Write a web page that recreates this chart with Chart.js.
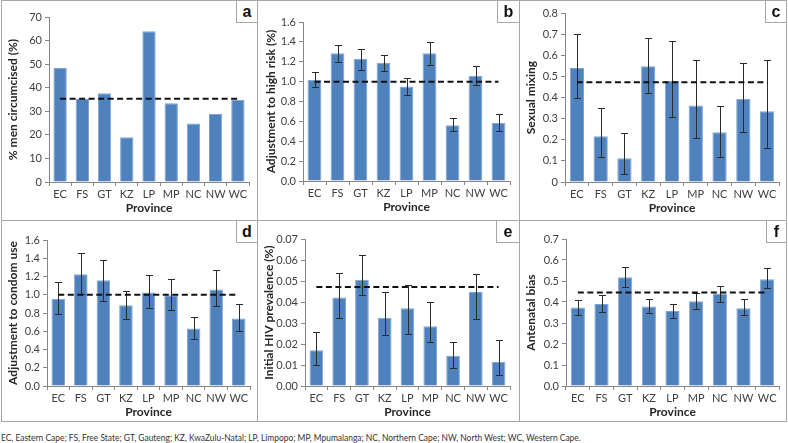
<!DOCTYPE html>
<html>
<head>
<meta charset="utf-8">
<script src="https://cdn.jsdelivr.net/npm/chart.js@4.4.1/dist/chart.umd.min.js"></script>
<style>
body { margin: 0; width: 788px; height: 443px; background: #fff; position: relative; overflow: hidden; font-family: Lato, sans-serif; }
.line { position: absolute; background: #a6a6a6; }
canvas { position: absolute; }
.tag { position: absolute; background: #fff; border: 1px solid #a6a6a6; box-sizing: border-box; font: bold 16px "Liberation Sans", Arial, sans-serif; color: #111; display: flex; align-items: center; justify-content: center; }
#note { position: absolute; left: 1px; top: 431px; font-size: 9.8px; color: #333; white-space: nowrap; transform: scaleX(0.86); transform-origin: left top; }
</style>
</head>
<body>
<!-- panel frame -->
<div class="line" style="left:1px;top:0;width:786px;height:1px"></div>
<div class="line" style="left:1px;top:220px;width:786px;height:1px"></div>
<div class="line" style="left:1px;top:421px;width:786px;height:1px"></div>
<div class="line" style="left:1px;top:0;width:1px;height:422px"></div>
<div class="line" style="left:257px;top:0;width:1px;height:422px"></div>
<div class="line" style="left:519px;top:0;width:1px;height:422px"></div>
<div class="line" style="left:786px;top:0;width:1px;height:422px"></div>

<canvas id="chartA"></canvas>
<canvas id="chartB"></canvas>
<canvas id="chartC"></canvas>
<canvas id="chartD"></canvas>
<canvas id="chartE"></canvas>
<canvas id="chartF"></canvas>

<div class="tag" style="left:236px;top:0;width:22px;height:23px">a</div>
<div class="tag" style="left:497px;top:0;width:23px;height:23px">b</div>
<div class="tag" style="left:765px;top:0;width:22px;height:23px">c</div>
<div class="tag" style="left:236px;top:220px;width:22px;height:23px">d</div>
<div class="tag" style="left:496px;top:220px;width:24px;height:23px">e</div>
<div class="tag" style="left:766px;top:220px;width:21px;height:23px">f</div>

<div id="note">EC, Eastern Cape; FS, Free State; GT, Gauteng; KZ, KwaZulu-Natal; LP, Limpopo; MP, Mpumalanga; NC, Northern Cape; NW, North West; WC, Western Cape.</div>

<script>
const provinces = ['EC', 'FS', 'GT', 'KZ', 'LP', 'MP', 'NC', 'NW', 'WC'];

// a - % men circumcised
const circumcised = [48.4, 35.2, 37.6, 19.0, 64.0, 33.4, 24.8, 28.8, 34.9];
const circumcisedRef = 35.3;
const ticksA = ['0', '10', '20', '30', '40', '50', '60', '70'];

// b - adjustment to high risk
const highRisk = [1.02, 1.285, 1.23, 1.19, 0.95, 1.285, 0.56, 1.06, 0.585];
const highRiskLow = [0.95, 1.195, 1.12, 1.11, 0.865, 1.17, 0.50, 0.97, 0.50];
const highRiskHigh = [1.095, 1.37, 1.33, 1.27, 1.04, 1.40, 0.63, 1.16, 0.67];
const highRiskRef = 1.0;
const ticksB = ['0.0', '0.2', '0.4', '0.6', '0.8', '1.0', '1.2', '1.4', '1.6'];

// c - sexual mixing
const mixing = [0.54, 0.217, 0.113, 0.548, 0.478, 0.362, 0.236, 0.394, 0.335];
const mixingLow = [0.397, 0.12, 0.036, 0.42, 0.309, 0.206, 0.12, 0.238, 0.159];
const mixingHigh = [0.70, 0.35, 0.233, 0.68, 0.668, 0.576, 0.362, 0.563, 0.578];
const mixingRef = 0.472;
const ticksC = ['0', '0.1', '0.2', '0.3', '0.4', '0.5', '0.6', '0.7', '0.8'];

// d - adjustment to condom use
const condom = [0.955, 1.224, 1.159, 0.886, 1.024, 0.995, 0.63, 1.057, 0.74];
const condomLow = [0.794, 1.01, 0.933, 0.729, 0.856, 0.83, 0.52, 0.875, 0.605];
const condomHigh = [1.14, 1.461, 1.385, 1.042, 1.221, 1.17, 0.758, 1.276, 0.897];
const condomRef = 1.0;
const ticksD = ['0.0', '0.2', '0.4', '0.6', '0.8', '1.0', '1.2', '1.4', '1.6'];

// e - initial HIV prevalence
const prevalence = [0.017, 0.0422, 0.0506, 0.0325, 0.037, 0.0284, 0.0144, 0.0448, 0.0116];
const prevalenceLow = [0.0102, 0.0322, 0.0433, 0.0243, 0.0246, 0.0208, 0.0084, 0.0319, 0.0052];
const prevalenceHigh = [0.0259, 0.0538, 0.0622, 0.0448, 0.0481, 0.0402, 0.0211, 0.0532, 0.0221];
const prevalenceRef = 0.0471;
const ticksE = ['0.00', '0.01', '0.02', '0.03', '0.04', '0.05', '0.06', '0.07'];

// f - antenatal bias
const antenatal = [0.374, 0.39, 0.518, 0.378, 0.357, 0.403, 0.44, 0.37, 0.508];
const antenatalLow = [0.34, 0.352, 0.472, 0.348, 0.325, 0.368, 0.40, 0.34, 0.465];
const antenatalHigh = [0.41, 0.433, 0.566, 0.415, 0.392, 0.445, 0.478, 0.413, 0.56];
const antenatalRef = 0.445;
const ticksF = ['0.0', '0.1', '0.2', '0.3', '0.4', '0.5', '0.6', '0.7'];

const BAR_BLUE = '#4f81bd';
const AXIS_GREY = '#868686';

// whiskers drawn right after the bars, before the dashed reference line
const errorBars = {
  id: 'errorBars',
  afterDatasetDraw(chart, args) {
    const ds = chart.data.datasets[args.index];
    if (!ds.errLow) return;
    const y = chart.scales.y;
    const ctx = chart.ctx;
    ctx.save();
    ctx.strokeStyle = '#2b2b2b';
    ctx.lineWidth = 1;
    args.meta.data.forEach((bar, i) => {
      const x = Math.round(bar.x) + 0.5;
      const top = Math.round(y.getPixelForValue(ds.errHigh[i])) + 0.5;
      const bot = Math.round(y.getPixelForValue(ds.errLow[i])) + 0.5;
      ctx.beginPath();
      ctx.moveTo(x, top); ctx.lineTo(x, bot);
      ctx.moveTo(x - 3.5, top); ctx.lineTo(x + 3.5, top);
      ctx.moveTo(x - 3.5, bot); ctx.lineTo(x + 3.5, bot);
      ctx.stroke();
    });
    ctx.restore();
  }
};

function makePanel(id, box, area, values, low, high, ref, tickLabels, yTitle, titlePad) {
  const canvas = document.getElementById(id);
  canvas.width = box.w;
  canvas.height = box.h;
  canvas.style.left = box.x + 'px';
  canvas.style.top = box.y + 'px';

  const xAxisHeight = 35;
  const barSet = {
    type: 'bar',
    data: values,
    backgroundColor: BAR_BLUE,
    borderColor: '#7ea3d2',
    borderWidth: 1,
    barPercentage: 0.6,
    categoryPercentage: 1.0,
    order: 1
  };
  if (low) { barSet.errLow = low; barSet.errHigh = high; }

  new Chart(canvas, {
    data: {
      labels: provinces,
      datasets: [
        barSet,
        {
          type: 'line',
          data: provinces.map(() => ref),
          borderColor: '#111',
          borderWidth: 2,
          borderDash: [6, 3.5],
          pointRadius: 0,
          fill: false,
          order: 0
        }
      ]
    },
    options: {
      responsive: false,
      animation: false,
      devicePixelRatio: 1,
      layout: {
        padding: {
          top: area.top - box.y,
          right: box.x + box.w - area.right,
          bottom: box.y + box.h - (area.bottom + xAxisHeight),
          left: 0
        }
      },
      plugins: { legend: { display: false }, tooltip: { enabled: false } },
      scales: {
        x: {
          afterFit: s => { s.height = xAxisHeight; },
          grid: { drawOnChartArea: false, tickLength: 4, color: AXIS_GREY, offset: true },
          border: { color: AXIS_GREY },
          ticks: { font: { family: 'Lato', size: 11 }, color: '#404040', padding: 2, maxRotation: 0, autoSkip: false },
          title: { display: true, text: 'Province', font: { family: 'Lato', size: 12, weight: 'bold' }, color: '#262626', padding: { top: 0, bottom: 2 } }
        },
        y: {
          min: 0,
          max: parseFloat(tickLabels[tickLabels.length - 1]),
          afterFit: s => { s.width = area.left - box.x; },
          afterBuildTicks: s => { s.ticks = tickLabels.map(t => ({ value: parseFloat(t) })); },
          grid: { drawOnChartArea: false, tickLength: 4, color: AXIS_GREY },
          border: { color: AXIS_GREY },
          ticks: { font: { family: 'Lato', size: 11 }, color: '#404040', padding: 3, callback: (v, i) => tickLabels[i] },
          title: { display: true, text: yTitle, font: { family: 'Lato', size: 12, weight: 'bold' }, color: '#262626', padding: { top: titlePad, bottom: 0 } }
        }
      }
    },
    plugins: [errorBars]
  });
}

makePanel('chartA', { x: 2, y: 1, w: 255, h: 219 }, { left: 49, right: 249, top: 17, bottom: 182 },
  circumcised, null, null, circumcisedRef, ticksA, '% men circumcised (%)', 4);
makePanel('chartB', { x: 258, y: 1, w: 261, h: 219 }, { left: 303, right: 510, top: 22, bottom: 181 },
  highRisk, highRiskLow, highRiskHigh, highRiskRef, ticksB, 'Adjustment to high risk (%)', 6);
makePanel('chartC', { x: 520, y: 1, w: 266, h: 219 }, { left: 565, right: 779, top: 13, bottom: 182 },
  mixing, mixingLow, mixingHigh, mixingRef, ticksC, 'Sexual mixing', 4);
makePanel('chartD', { x: 2, y: 221, w: 255, h: 200 }, { left: 47, right: 250, top: 240, bottom: 386 },
  condom, condomLow, condomHigh, condomRef, ticksD, 'Adjustment to condom use', 4);
makePanel('chartE', { x: 258, y: 221, w: 261, h: 200 }, { left: 305, right: 510, top: 239, bottom: 386 },
  prevalence, prevalenceLow, prevalenceHigh, prevalenceRef, ticksE, 'Initial HIV prevalence (%)', 4);
makePanel('chartF', { x: 520, y: 221, w: 266, h: 200 }, { left: 566, right: 779, top: 239, bottom: 386 },
  antenatal, antenatalLow, antenatalHigh, antenatalRef, ticksF, 'Antenatal bias', 4);
</script>
</body>
</html>
